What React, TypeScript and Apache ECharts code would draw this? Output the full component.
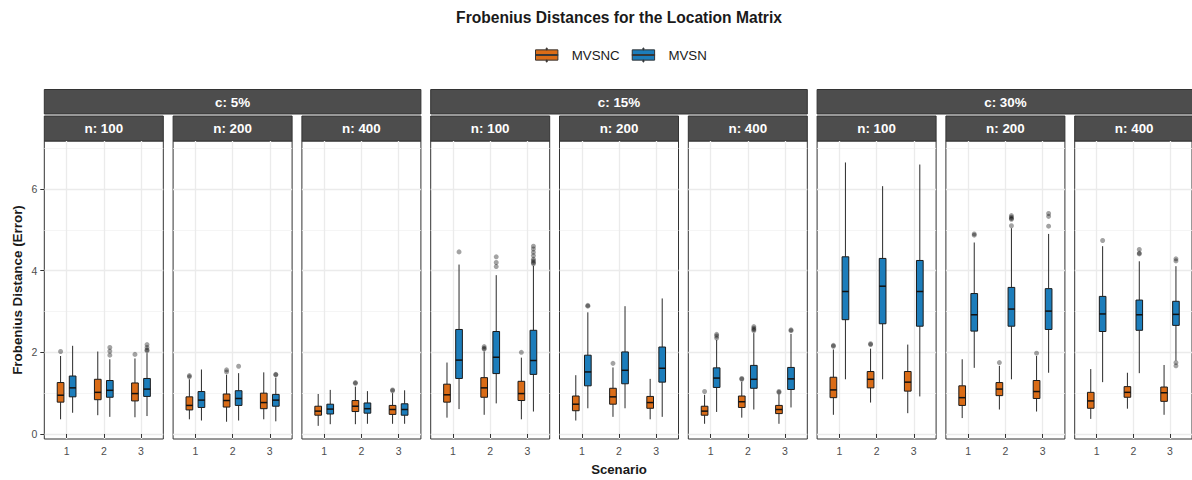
import React, { useEffect, useRef } from 'react';
import * as echarts from 'echarts';

// ---------- data ----------
const C_LEVELS = ['c: 5%', 'c: 15%', 'c: 30%'];
const N_LEVELS = ['n: 100', 'n: 200', 'n: 400'];
const SCENARIOS = [1, 2, 3];
const METHODS = ['MVSNC', 'MVSN'];
const Y_MAJOR = [0, 2, 4, 6];
const Y_MINOR = [1, 3, 5, 7];

// per panel (c5n100, c5n200, c5n400, c15n100, ..., c30n400), per scenario:
// [whiskerLow, q1, median, q3, whiskerHigh]
const MVSNC_BOX = [
  [[0.36, 0.78, 0.95, 1.26, 1.91], [0.46, 0.84, 1.02, 1.34, 2.02], [0.41, 0.81, 0.99, 1.25, 1.85]],
  [[0.36, 0.59, 0.70, 0.91, 1.34], [0.30, 0.66, 0.82, 0.98, 1.45], [0.36, 0.62, 0.77, 1.00, 1.51]],
  [[0.20, 0.46, 0.56, 0.68, 0.98], [0.24, 0.55, 0.68, 0.82, 1.16], [0.25, 0.48, 0.60, 0.70, 1.00]],
  [[0.40, 0.78, 0.96, 1.22, 1.75], [0.47, 0.90, 1.13, 1.38, 2.02], [0.36, 0.82, 0.99, 1.29, 1.87]],
  [[0.33, 0.57, 0.73, 0.93, 1.44], [0.42, 0.73, 0.91, 1.12, 1.63], [0.36, 0.63, 0.77, 0.92, 1.35]],
  [[0.25, 0.46, 0.56, 0.68, 0.96], [0.40, 0.65, 0.79, 0.93, 1.28], [0.25, 0.50, 0.60, 0.70, 0.97]],
  [[0.47, 0.89, 1.08, 1.39, 2.07], [0.77, 1.13, 1.34, 1.53, 2.09], [0.51, 1.05, 1.27, 1.53, 2.19]],
  [[0.39, 0.70, 0.89, 1.18, 1.83], [0.60, 0.94, 1.10, 1.26, 1.67], [0.55, 0.87, 1.04, 1.31, 1.91]],
  [[0.37, 0.63, 0.81, 1.02, 1.59], [0.62, 0.90, 1.02, 1.16, 1.50], [0.47, 0.80, 1.01, 1.15, 1.69]],
];
const MVSN_BOX = [
  [[0.52, 0.91, 1.13, 1.42, 2.16], [0.42, 0.90, 1.07, 1.31, 1.83], [0.44, 0.92, 1.10, 1.36, 1.98]],
  [[0.33, 0.65, 0.83, 1.04, 1.58], [0.33, 0.70, 0.87, 1.06, 1.49], [0.31, 0.68, 0.83, 0.97, 1.38]],
  [[0.24, 0.49, 0.61, 0.73, 1.08], [0.25, 0.51, 0.62, 0.76, 1.05], [0.25, 0.46, 0.60, 0.74, 1.07]],
  [[0.61, 1.36, 1.81, 2.56, 4.15], [0.75, 1.48, 1.88, 2.51, 3.89], [0.55, 1.46, 1.80, 2.54, 4.12]],
  [[0.63, 1.18, 1.52, 1.93, 2.98], [0.63, 1.23, 1.56, 2.01, 3.13], [0.42, 1.27, 1.61, 2.13, 3.32]],
  [[0.54, 1.14, 1.37, 1.62, 2.30], [0.60, 1.12, 1.34, 1.68, 2.47], [0.65, 1.09, 1.35, 1.63, 2.45]],
  [[1.34, 2.80, 3.49, 4.34, 6.65], [1.34, 2.70, 3.62, 4.30, 6.07], [0.92, 2.64, 3.49, 4.25, 6.60]],
  [[1.62, 2.52, 2.92, 3.44, 4.69], [1.34, 2.64, 3.06, 3.59, 5.04], [1.50, 2.56, 3.01, 3.56, 4.90]],
  [[1.27, 2.51, 2.94, 3.37, 4.60], [1.49, 2.54, 2.92, 3.28, 4.23], [1.80, 2.66, 2.93, 3.25, 4.11]],
];
const MVSNC_OUT = [
  [[2.02], [], [1.95]],
  [[1.40, 1.43], [1.52, 1.57], []],
  [[], [1.24, 1.26], [1.06, 1.08]],
  [[], [2.08, 2.10, 2.14], [2.00]],
  [[], [1.73], []],
  [[1.04], [1.34, 1.36], [1.02, 1.04]],
  [[2.15, 2.17], [2.19, 2.21], []],
  [[], [1.75], [1.98]],
  [[], [], []],
];
const MVSN_OUT = [
  [[], [1.93, 2.03, 2.12], [2.04, 2.06, 2.12, 2.19]],
  [[], [1.66], [1.45, 1.46]],
  [[], [], []],
  [[4.46], [4.10, 4.20, 4.34], [4.17, 4.20, 4.24, 4.28, 4.37, 4.45, 4.53, 4.60]],
  [[3.13, 3.15], [], []],
  [[2.35, 2.40, 2.44], [2.53, 2.56, 2.59, 2.63], [2.53, 2.55]],
  [[], [], []],
  [[4.87, 4.90], [5.10, 5.26, 5.28, 5.31, 5.35], [5.09, 5.33, 5.40]],
  [[4.74], [4.41, 4.43, 4.52], [1.67, 1.75, 4.24, 4.29]],
];

// ---------- style / layout ----------
const FONT = '"Liberation Sans", Arial, Helvetica, sans-serif';
const ORANGE = '#DA6C17';
const BLUE = '#1C7DBB';
const COLORS = [ORANGE, BLUE];
const OFFSETS = [-0.162, 0.162];
const BOX_W = 0.18;
const PANEL_LEFT0 = 44.3;
const PANEL_STEP = 128.8;
const PANEL_W = 119;
const PANEL_TOP = 141;
const PANEL_H = 298;
const Y_MIN = -0.1225;
const Y_MAX = 7.176;
const STRIP_FILL = '#4d4d4d';
const STRIP_STROKE = '#333333';

const LEGEND_ICON = 'path://M11.5,0H12.5V2H11.5Z M0,2H24V13H0Z M0,8H24V7H0Z M11.5,13H12.5V15H11.5Z';

function makeRender(color: string, offset: number) {
  return (params: any, api: any) => {
    const x = api.value(0) + offset;
    const lo = api.coord([x, api.value(1)]);
    const q1 = api.coord([x, api.value(2)]);
    const med = api.coord([x, api.value(3)]);
    const q3 = api.coord([x, api.value(4)]);
    const hi = api.coord([x, api.value(5)]);
    const w = api.size([BOX_W, 0])[0];
    const cx = lo[0];
    const lineStyle = { stroke: '#2a2a2a', lineWidth: 1 };
    return {
      type: 'group',
      children: [
        { type: 'line', shape: { x1: cx, y1: hi[1], x2: cx, y2: q3[1] }, style: lineStyle },
        { type: 'line', shape: { x1: cx, y1: q1[1], x2: cx, y2: lo[1] }, style: lineStyle },
        {
          type: 'rect',
          shape: { x: cx - w / 2, y: q3[1], width: w, height: q1[1] - q3[1] },
          style: { fill: color, stroke: '#1a1a1a', lineWidth: 1 },
        },
        {
          type: 'line',
          shape: { x1: cx - w / 2, y1: med[1], x2: cx + w / 2, y2: med[1] },
          style: { stroke: '#111', lineWidth: 1.5 },
        },
      ],
    };
  };
}

function buildOption() {
  const grid: any[] = [];
  const xAxis: any[] = [];
  const yAxis: any[] = [];
  const series: any[] = [];
  const elements: any[] = [];
  const boxSets = [MVSNC_BOX, MVSN_BOX];
  const outSets = [MVSNC_OUT, MVSN_OUT];
  const panelLeft = (p: number) => PANEL_LEFT0 + p * PANEL_STEP;

  for (let p = 0; p < 9; p++) {
    grid.push({
      left: panelLeft(p), top: PANEL_TOP, width: PANEL_W, height: PANEL_H,
      show: true, borderColor: '#333', borderWidth: 1, backgroundColor: '#ffffff',
      containLabel: false,
    });
    xAxis.push({
      type: 'value', gridIndex: p, min: 0.4, max: 3.6,
      axisLine: { show: false },
      axisTick: { show: true, customValues: SCENARIOS, length: 4, lineStyle: { color: '#333', width: 1 } },
      axisLabel: { show: true, customValues: SCENARIOS, color: '#4d4d4d', fontSize: 10.5, margin: 6, fontFamily: FONT },
      splitLine: { show: true, lineStyle: { color: '#ebebeb', width: 1.3 } },
    });
    yAxis.push({
      type: 'value', gridIndex: p, min: Y_MIN, max: Y_MAX, position: 'left',
      axisLine: { show: false },
      axisTick: { show: p === 0, customValues: Y_MAJOR, length: 4, lineStyle: { color: '#333', width: 1 } },
      axisLabel: { show: p === 0, customValues: Y_MAJOR, color: '#4d4d4d', fontSize: 10.5, margin: 7, fontFamily: FONT },
      splitLine: { show: true, lineStyle: { color: '#ebebeb', width: 1.3 } },
    });
    yAxis.push({
      type: 'value', gridIndex: p, min: Y_MIN, max: Y_MAX, position: 'right',
      axisLine: { show: false },
      axisTick: { show: false, customValues: Y_MINOR },
      axisLabel: { show: false, customValues: Y_MINOR },
      splitLine: { show: true, lineStyle: { color: '#f2f2f2', width: 0.8 } },
    });

    for (let m = 0; m < 2; m++) {
      const boxes = boxSets[m][p];
      series.push({
        type: 'custom', name: METHODS[m], xAxisIndex: p, yAxisIndex: 2 * p,
        itemStyle: { color: COLORS[m] },
        renderItem: makeRender(COLORS[m], OFFSETS[m]),
        encode: { x: 0, y: [1, 2, 3, 4, 5] },
        data: SCENARIOS.map((s, k) => [s, ...boxes[k]]),
        z: 3,
      });
    }
    for (let m = 0; m < 2; m++) {
      const outs = outSets[m][p];
      const pts: number[][] = [];
      SCENARIOS.forEach((s, k) => outs[k].forEach((v) => pts.push([s + OFFSETS[m], v])));
      series.push({
        type: 'scatter', name: METHODS[m] + ' outliers', xAxisIndex: p, yAxisIndex: 2 * p,
        symbol: 'circle', symbolSize: 5,
        itemStyle: { color: 'rgba(0,0,0,0.45)' },
        data: pts, z: 4,
      });
    }

    // n strip
    elements.push({
      type: 'rect', shape: { x: panelLeft(p), y: 116, width: PANEL_W, height: 25 },
      style: { fill: STRIP_FILL, stroke: STRIP_STROKE, lineWidth: 1 },
    });
    elements.push({
      type: 'text', x: panelLeft(p) + PANEL_W / 2, y: 128.5,
      style: {
        text: N_LEVELS[p % 3], fill: '#ffffff', font: `bold 13.4px ${FONT}`,
        textAlign: 'center', textVerticalAlign: 'middle', align: 'center', verticalAlign: 'middle',
      },
    });
  }

  // c strips
  for (let c = 0; c < 3; c++) {
    const x0 = panelLeft(3 * c);
    const x1 = panelLeft(3 * c + 2) + PANEL_W;
    elements.push({
      type: 'rect', shape: { x: x0, y: 89.5, width: x1 - x0, height: 24.5 },
      style: { fill: STRIP_FILL, stroke: STRIP_STROKE, lineWidth: 1 },
    });
    elements.push({
      type: 'text', x: (x0 + x1) / 2, y: 102,
      style: {
        text: C_LEVELS[c], fill: '#ffffff', font: `bold 13.4px ${FONT}`,
        textAlign: 'center', textVerticalAlign: 'middle', align: 'center', verticalAlign: 'middle',
      },
    });
  }

  const centerX = (PANEL_LEFT0 + panelLeft(8) + PANEL_W) / 2;
  elements.push({
    type: 'text', x: centerX, y: 17,
    style: {
      text: 'Frobenius Distances for the Location Matrix', fill: '#1a1a1a', font: `bold 15.6px ${FONT}`,
      textAlign: 'center', textVerticalAlign: 'middle', align: 'center', verticalAlign: 'middle',
    },
  });
  elements.push({
    type: 'text', x: centerX, y: 469.5,
    style: {
      text: 'Scenario', fill: '#1a1a1a', font: `bold 13.2px ${FONT}`,
      textAlign: 'center', textVerticalAlign: 'middle', align: 'center', verticalAlign: 'middle',
    },
  });
  elements.push({
    type: 'text', x: 17, y: PANEL_TOP + PANEL_H / 2, rotation: Math.PI / 2,
    style: {
      text: 'Frobenius Distance (Error)', fill: '#1a1a1a', font: `bold 13.4px ${FONT}`,
      textAlign: 'center', textVerticalAlign: 'middle', align: 'center', verticalAlign: 'middle',
    },
  });

  return {
    animation: false,
    backgroundColor: '#ffffff',
    textStyle: { fontFamily: FONT },
    legend: {
      left: 530, top: 42.5, itemWidth: 24, itemHeight: 14, itemGap: 12, selectedMode: false,
      data: METHODS.map((name, m) => ({
        name, icon: LEGEND_ICON,
        itemStyle: { color: COLORS[m], borderColor: '#333', borderWidth: 1 },
      })),
      textStyle: { fontSize: 13.3, color: '#1a1a1a', fontFamily: FONT, padding: [0, 0, 0, 8] },
    },
    grid, xAxis, yAxis, series,
    graphic: { elements },
  };
}

export default function App() {
  const ref = useRef<HTMLDivElement>(null);
  useEffect(() => {
    if (!ref.current) return;
    const chart = echarts.init(ref.current, undefined, { renderer: 'svg' });
    chart.setOption(buildOption() as any);
    return () => chart.dispose();
  }, []);
  return (
    <div
      ref={ref}
      style={{ position: 'absolute', left: 0, top: 0, width: 1192, height: 480, background: '#fff' }}
    />
  );
}
